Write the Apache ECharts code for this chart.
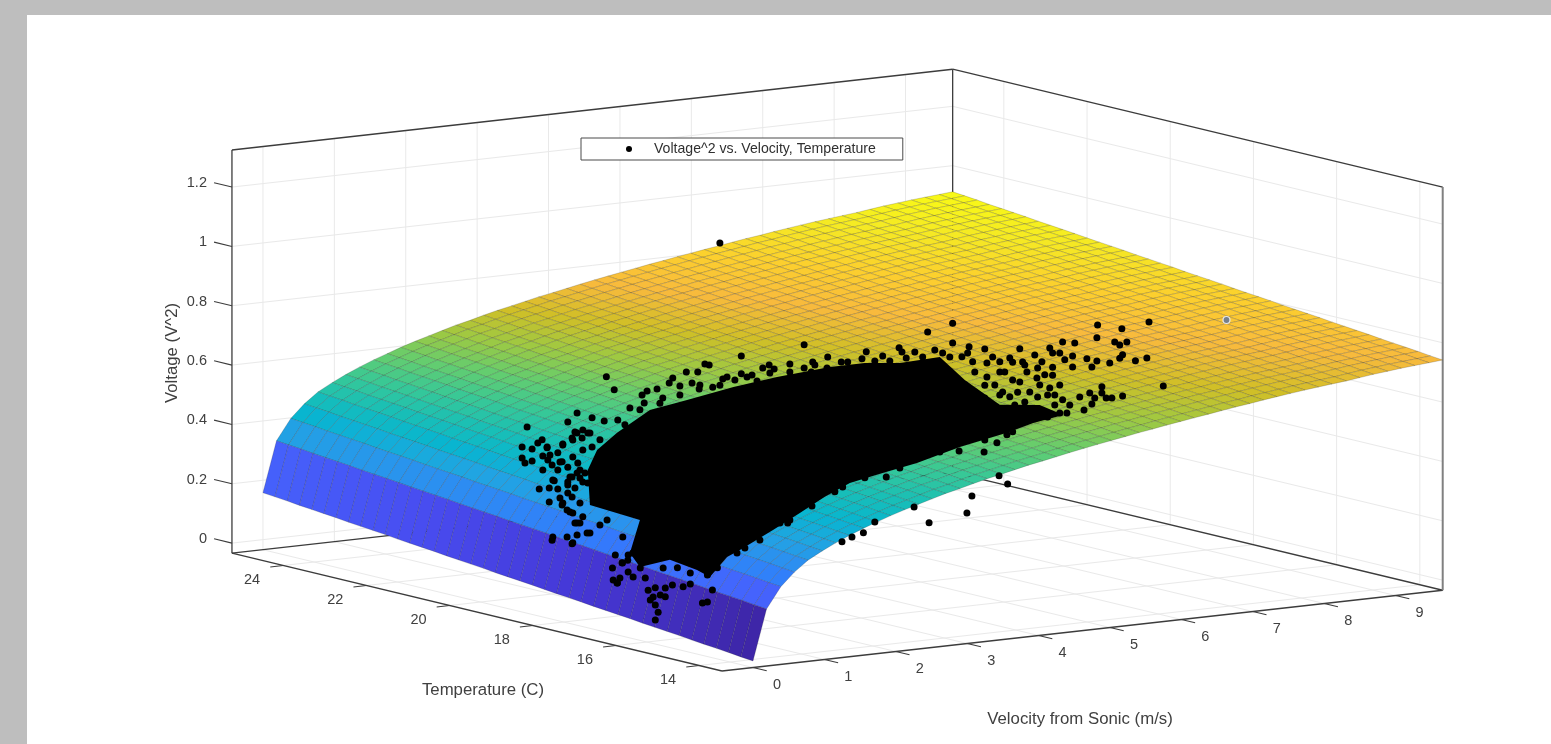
<!DOCTYPE html>
<html><head><meta charset="utf-8">
<style>html,body{margin:0;padding:0;background:#fff}#c{width:1551px;height:744px}</style>
<script src="https://cdn.jsdelivr.net/npm/echarts@6/dist/echarts.min.js"></script>
</head><body><div id="c"></div>
<script>
// Axis limits and tick labels
const velocityRange = [-0.434, 9.66];
const temperatureRange = [13.45, 25.23];
const voltageRange = [-0.034, 1.325];
const velocityTicks = [0,1,2,3,4,5,6,7,8,9];
const temperatureTicks = [14,16,18,20,22,24];
const voltageTicks = [0,0.2,0.4,0.6,0.8,1,1.2];

// Fitted surface: grid positions and voltage^2 (x1000)
const velocityGrid = [0,.19,.39,.58,.77,.97,1.16,1.35,1.55,1.74,1.93,2.13,2.32,2.51,2.70,2.90,3.09,3.28,3.48,3.67,3.86,4.06,4.25,4.44,4.64,4.83,5.02,5.22,5.41,5.60,5.80,5.99,6.18,6.38,6.57,6.76,6.96,7.15,7.34,7.53,7.73,7.92,8.11,8.31,8.50,8.69,8.89,9.08,9.27,9.47,9.66];
const temperatureGrid = [13.45,13.74,14.04,14.33,14.63,14.92,15.22,15.51,15.81,16.10,16.40,16.69,16.99,17.28,17.58,17.87,18.17,18.46,18.75,19.05,19.34,19.64,19.93,20.23,20.52,20.81,21.11,21.40,21.70,21.99,22.29,22.58,22.88,23.17,23.47,23.76,24.05,24.35,24.64,24.94,25.23];
const surfaceVoltage = [
[-12,158,228,272,307,333,355,375,394,410,426,441,454,467,480,491,503,514,524,534,544,553,562,571,580,588,596,604,612,619,627,634,641,648,655,662,668,675,681,687,693,698,703,708,714,720,725,730,734,738,742],
[-8,162,232,276,311,337,359,379,398,414,430,445,458,471,484,495,507,518,528,538,548,557,566,575,584,592,600,608,616,623,631,638,645,652,659,666,672,679,685,691,697,702,707,712,718,724,729,734,738,742,746],
[-3,167,237,281,316,342,364,384,403,419,435,450,463,476,489,500,512,523,533,543,553,562,571,580,589,597,605,613,621,628,636,643,650,657,664,671,677,684,690,696,702,707,712,717,723,729,734,739,743,747,751],
[1,171,241,285,320,346,368,388,407,423,439,454,467,480,493,504,516,527,537,547,557,566,575,584,593,601,609,617,625,632,640,647,654,661,668,675,681,688,694,700,706,711,716,721,727,733,738,743,747,751,755],
[5,175,245,289,324,350,372,392,411,427,443,458,471,484,497,508,520,531,541,551,561,570,579,588,597,605,613,621,629,636,644,651,658,665,672,679,685,692,698,704,710,715,720,725,731,737,742,747,751,755,759],
[9,179,249,293,328,354,376,396,415,431,447,462,475,488,501,512,524,535,545,555,565,574,583,592,601,609,617,625,633,640,648,655,662,669,676,683,689,696,702,708,714,719,724,729,735,741,746,751,755,759,763],
[14,184,254,298,333,359,381,401,420,436,452,467,480,493,506,517,529,540,550,560,570,579,588,597,606,614,622,630,638,645,653,660,667,674,681,688,694,701,707,713,719,724,729,734,740,746,751,756,760,764,768],
[18,188,258,302,337,363,385,405,424,440,456,471,484,497,510,521,533,544,554,564,574,583,592,601,610,618,626,634,642,649,657,664,671,678,685,692,698,705,711,717,723,728,733,738,744,750,755,760,764,768,772],
[22,192,262,306,341,367,389,409,428,444,460,475,488,501,514,525,537,548,558,568,578,587,596,605,614,622,630,638,646,653,661,668,675,682,689,696,702,709,715,721,727,732,737,742,748,754,759,764,768,772,776],
[26,196,266,310,345,371,393,413,432,448,464,479,492,505,518,529,541,552,562,572,582,591,600,609,618,626,634,642,650,657,665,672,679,686,693,700,706,713,719,725,731,736,741,746,752,758,763,768,772,776,780],
[31,201,271,315,350,376,398,418,437,453,469,484,497,510,523,534,546,557,567,577,587,596,605,614,623,631,639,647,655,662,670,677,684,691,698,705,711,718,724,730,736,741,746,751,757,763,768,773,777,781,785],
[35,205,275,319,354,380,402,422,441,457,473,488,501,514,527,538,550,561,571,581,591,600,609,618,627,635,643,651,659,666,674,681,688,695,702,709,715,722,728,734,740,745,750,755,761,767,772,777,781,785,789],
[39,209,279,323,358,384,406,426,445,461,477,492,505,518,531,542,554,565,575,585,595,604,613,622,631,639,647,655,663,670,678,685,692,699,706,713,719,726,732,738,744,749,754,759,765,771,776,781,785,789,793],
[43,213,283,327,362,388,410,430,449,465,481,496,509,522,535,546,558,569,579,589,599,608,617,626,635,643,651,659,667,674,682,689,696,703,710,717,723,730,736,742,748,753,758,763,769,775,780,785,789,793,797],
[48,218,288,332,367,393,415,435,454,470,486,501,514,527,540,551,563,574,584,594,604,613,622,631,640,648,656,664,672,679,687,694,701,708,715,722,728,735,741,747,753,758,763,768,774,780,785,790,794,798,802],
[52,222,292,336,371,397,419,439,458,474,490,505,518,531,544,555,567,578,588,598,608,617,626,635,644,652,660,668,676,683,691,698,705,712,719,726,732,739,745,751,757,762,767,772,778,784,789,794,798,802,806],
[56,226,296,340,375,401,423,443,462,478,494,509,522,535,548,559,571,582,592,602,612,621,630,639,648,656,664,672,680,687,695,702,709,716,723,730,736,743,749,755,761,766,771,776,782,788,793,798,802,806,810],
[60,230,300,344,379,405,427,447,466,482,498,513,526,539,552,563,575,586,596,606,616,625,634,643,652,660,668,676,684,691,699,706,713,720,727,734,740,747,753,759,765,770,775,780,786,792,797,802,806,810,814],
[65,235,305,349,384,410,432,452,471,487,503,518,531,544,557,568,580,591,601,611,621,630,639,648,657,665,673,681,689,696,704,711,718,725,732,739,745,752,758,764,770,775,780,785,791,797,802,807,811,815,819],
[69,239,309,353,388,414,436,456,475,491,507,522,535,548,561,572,584,595,605,615,625,634,643,652,661,669,677,685,693,700,708,715,722,729,736,743,749,756,762,768,774,779,784,789,795,801,806,811,815,819,823],
[73,243,313,357,392,418,440,460,479,495,511,526,539,552,565,576,588,599,609,619,629,638,647,656,665,673,681,689,697,704,712,719,726,733,740,747,753,760,766,772,778,783,788,793,799,805,810,815,819,823,827],
[77,247,317,361,396,422,444,464,483,499,515,530,543,556,569,580,592,603,613,623,633,642,651,660,669,677,685,693,701,708,716,723,730,737,744,751,757,764,770,776,782,787,792,797,803,809,814,819,823,827,831],
[82,252,322,366,401,427,449,469,488,504,520,535,548,561,574,585,597,608,618,628,638,647,656,665,674,682,690,698,706,713,721,728,735,742,749,756,762,769,775,781,787,792,797,802,808,814,819,824,828,832,836],
[86,256,326,370,405,431,453,473,492,508,524,539,552,565,578,589,601,612,622,632,642,651,660,669,678,686,694,702,710,717,725,732,739,746,753,760,766,773,779,785,791,796,801,806,812,818,823,828,832,836,840],
[90,260,330,374,409,435,457,477,496,512,528,543,556,569,582,593,605,616,626,636,646,655,664,673,682,690,698,706,714,721,729,736,743,750,757,764,770,777,783,789,795,800,805,810,816,822,827,832,836,840,844],
[94,264,334,378,413,439,461,481,500,516,532,547,560,573,586,597,609,620,630,640,650,659,668,677,686,694,702,710,718,725,733,740,747,754,761,768,774,781,787,793,799,804,809,814,820,826,831,836,840,844,848],
[99,269,339,383,418,444,466,486,505,521,537,552,565,578,591,602,614,625,635,645,655,664,673,682,691,699,707,715,723,730,738,745,752,759,766,773,779,786,792,798,804,809,814,819,825,831,836,841,845,849,853],
[103,273,343,387,422,448,470,490,509,525,541,556,569,582,595,606,618,629,639,649,659,668,677,686,695,703,711,719,727,734,742,749,756,763,770,777,783,790,796,802,808,813,818,823,829,835,840,845,849,853,857],
[107,277,347,391,426,452,474,494,513,529,545,560,573,586,599,610,622,633,643,653,663,672,681,690,699,707,715,723,731,738,746,753,760,767,774,781,787,794,800,806,812,817,822,827,833,839,844,849,853,857,861],
[111,281,351,395,430,456,478,498,517,533,549,564,577,590,603,614,626,637,647,657,667,676,685,694,703,711,719,727,735,742,750,757,764,771,778,785,791,798,804,810,816,821,826,831,837,843,848,853,857,861,865],
[116,286,356,400,435,461,483,503,522,538,554,569,582,595,608,619,631,642,652,662,672,681,690,699,708,716,724,732,740,747,755,762,769,776,783,790,796,803,809,815,821,826,831,836,842,848,853,858,862,866,870],
[120,290,360,404,439,465,487,507,526,542,558,573,586,599,612,623,635,646,656,666,676,685,694,703,712,720,728,736,744,751,759,766,773,780,787,794,800,807,813,819,825,830,835,840,846,852,857,862,866,870,874],
[124,294,364,408,443,469,491,511,530,546,562,577,590,603,616,627,639,650,660,670,680,689,698,707,716,724,732,740,748,755,763,770,777,784,791,798,804,811,817,823,829,834,839,844,850,856,861,866,870,874,878],
[128,298,368,412,447,473,495,515,534,550,566,581,594,607,620,631,643,654,664,674,684,693,702,711,720,728,736,744,752,759,767,774,781,788,795,802,808,815,821,827,833,838,843,848,854,860,865,870,874,878,882],
[133,303,373,417,452,478,500,520,539,555,571,586,599,612,625,636,648,659,669,679,689,698,707,716,725,733,741,749,757,764,772,779,786,793,800,807,813,820,826,832,838,843,848,853,859,865,870,875,879,883,887],
[137,307,377,421,456,482,504,524,543,559,575,590,603,616,629,640,652,663,673,683,693,702,711,720,729,737,745,753,761,768,776,783,790,797,804,811,817,824,830,836,842,847,852,857,863,869,874,879,883,887,891],
[141,311,381,425,460,486,508,528,547,563,579,594,607,620,633,644,656,667,677,687,697,706,715,724,733,741,749,757,765,772,780,787,794,801,808,815,821,828,834,840,846,851,856,861,867,873,878,883,887,891,895],
[145,315,385,429,464,490,512,532,551,567,583,598,611,624,637,648,660,671,681,691,701,710,719,728,737,745,753,761,769,776,784,791,798,805,812,819,825,832,838,844,850,855,860,865,871,877,882,887,891,895,899],
[150,320,390,434,469,495,517,537,556,572,588,603,616,629,642,653,665,676,686,696,706,715,724,733,742,750,758,766,774,781,789,796,803,810,817,824,830,837,843,849,855,860,865,870,876,882,887,892,896,900,904],
[154,324,394,438,473,499,521,541,560,576,592,607,620,633,646,657,669,680,690,700,710,719,728,737,746,754,762,770,778,785,793,800,807,814,821,828,834,841,847,853,859,864,869,874,880,886,891,896,900,904,908],
[158,328,398,442,477,503,525,545,564,580,596,611,624,637,650,661,673,684,694,704,714,723,732,741,750,758,766,774,782,789,797,804,811,818,825,832,838,845,851,857,863,868,873,878,884,890,895,900,904,908,912]
];

// Measured samples: [velocity, voltage^2]. Depth cannot be read, so each group carries one temperature.
const sampleTemperatureA = 19;
const samplesA = [[.07,.588],[1.18,.727],[1.29,.680],[0,.522],[.14,.512],[0,.485],[.14,.471],[.04,.467],[.28,.539],[.22,.530],[.35,.513],[.39,.485],[.29,.484],[.50,.489],[.56,.457],[.42,.450],[.29,.437],[.50,.431],[.57,.517],[.64,.589],[.77,.616],[.98,.594],[.74,.553],[.84,.530],[.70,.534],[.92,.545],[1.15,.579],[1.34,.577],[1.51,.613],[1.71,.624],[1.68,.652],[1.75,.664],[1.89,.667],[1.97,.634],[2.06,.682],[2.11,.698],[2.30,.713],[2.21,.668],[2.46,.709],[2.56,.733],[2.62,.728],[2.38,.674],[2.48,.651],[2.67,.652],[2.81,.676],[2.87,.681],[3.07,.746],[3.07,.686],[3.15,.673],[3.37,.698],[3.29,.656],[3.46,.705],[3.53,.690],[3.75,.701],[3.95,.760],[4.07,.699],[3.95,.682],[4.05,.666],[4.28,.710],[4.27,.673],[.24,.374],[.38,.374],[.50,.367],[.45,.396],[.38,.327],[.53,.336],[.64,.377],[.70,.402],[.81,.423],[.64,.350],[.56,.312],[.67,.285],[.77,.414],[.85,.381],[.74,.246],[4.47,.688],[4.82,.713],[4.76,.691],[5.05,.693],[4.94,.679],[5.28,.714],[5.32,.699],[5.68,.757],[6.03,.777],[6.03,.710],[5.78,.693],[5.38,.677],[5.61,.674],[5.89,.680],[6.26,.691],[6.24,.671],[6.48,.678],[6.16,.660],[6.59,.648],[6.83,.638],[6.97,.665],[7.18,.639],[7.01,.620],[7.39,.657],[7.57,.672],[7.74,.664],[7.53,.636],[7.71,.621],[7.43,.639],[7.60,.611],[7.71,.584],[7.28,.613],[7.22,.594],[7.43,.591],[7.43,.564],[7.21,.560],[7.07,.584],[6.87,.623],[6.69,.629],[6.51,.630],[6.31,.639],[6.69,.595],[6.51,.583],[6.87,.563],[6.94,.520],[6.73,.526],[6.83,.507],[6.48,.556],[7.39,.522],[7.36,.499],[7.46,.496],[7.22,.496],[7.04,.484],[7.46,.463],[7.53,.434],[7.63,.431],[7.36,.425],[7.81,.480],[7.87,.435],[7.95,.490],[8.02,.471],[8.12,.506],[8.12,.485],[7.98,.452],[8.18,.467],[8.26,.465],[8.41,.467],[7.91,.606],[8.05,.595],[7.98,.577],[8.23,.583],[8.06,.716],[8.05,.673],[8.40,.694],[8.30,.652],[8.37,.640],[8.47,.648],[8.41,.606],[8.37,.596],[8.78,.707],[8.98,.486],[8.59,.581],[8.75,.586],[6.12,.344],[6.47,.331],[6.65,.357],[6.79,.380],[6.87,.388],[6.68,.245],[6.80,.214],[6.30,.187],[6.23,.132],[5.70,.113],[5.49,.172],[4.94,.136],[4.78,.104],[4.62,.094],[4.48,.082],[5.10,.284],[4.49,.266],[3.72,.166],[3.58,.170],[2.77,1.135],[.42,.197],[.43,.207],[.63,.202],[.70,.177],[.77,.205],[.95,.207],[.81,.244],[.63,.293],
[.77,.549],[.85,.557],[.95,.544],[.71,.527],[.57,.514],[.35,.510],[.36,.469],[.53,.457],[.71,.469],[.85,.489],[.98,.496],[.64,.437],[.78,.447],[.88,.411],[.67,.403],[.43,.399],[.64,.387],[.81,.396],[.74,.364],[.92,.376],[.57,.318],[.70,.335],[.81,.312],[.71,.281],[.85,.264],[.77,.245],[.91,.208],[1.09,.230],[1.19,.244],[1.41,.181],[1.40,.094],[1.48,.101],[1.55,.123],[.71,.180],[1.33,.028],[1.37,.044],[3.01,.084],[3.61,.169],
[1.09,.517],[1.44,.558],[1.65,.603],[1.93,.618],[2.21,.638],[2.49,.664],[2.77,.656],[2.98,.668],[3.22,.678],[3.47,.678],[3.75,.674],[4.10,.688],[4.56,.686],[5.15,.673],[5.50,.694],[5.99,.664],
[6.34,.604],[6.20,.564],[6.34,.537],[6.62,.553],[6.76,.593],[6.97,.553],[7.11,.516],[7.25,.536],[7.04,.609],[7.32,.568],[7.53,.528],[7.57,.477],[7.67,.457],[6.69,.517],[6.48,.513],[6.90,.478],
[6.48,.371],[5.85,.348],[5.29,.309],[4.80,.289],[4.38,.253],[4.06,.214],[3.75,.175],[3.33,.119],[3.12,.098]];
const sampleTemperatureB = 17;
const samplesB = [[.17,.127],[.11,.138],[.24,.192],[.39,.141],[.49,.169],[.60,.091],[.70,.096],[.67,.066],[.84,.092],[.84,.062],[.70,.038],[.74,.013],[.70,-.012],[1.09,.089],[1.19,.096],[1.36,.027],[1.43,.029],[1.50,.067],[.81,.160],[1.01,.155],[1.19,.133],[1.57,.140],[1.43,.120],[.32,.217],[.63,.057],[.77,.070],[.94,.099],[.56,.133],[.32,.160],[.10,.179],[.14,.222]];
// Outline of the part of the cloud too dense to separate into points, at sampleTemperatureA
const denseCloudOutline = [[.95,.301],[.92,.420],[1.05,.484],[1.33,.534],[1.79,.599],[2.31,.618],[2.96,.645],[3.57,.662],[4.31,.676],[4.80,.676],[5.29,.663],[5.85,.668],[6.2,.581],[6.69,.484],[7.25,.468],[7.58,.426],[7.16,.410],[6.79,.387],[6.13,.357],[5.53,.319],[5.06,.299],[4.59,.277],[4.24,.240],[3.89,.195],[3.52,.148],[3.05,.093],[2.87,.074],[2.63,.013],[2.45,.042],[2.07,.086],[1.65,.073],[1.51,.124],[1.65,.232]];
const selectedPoint = [[8.70,.783]];

const parula = [[62,38,168],[69,55,213],[72,77,240],[69,99,253],[50,124,252],[43,145,239],[32,165,226],[8,181,208],[25,191,182],[55,200,151],[100,205,111],[157,201,67],[209,191,39],[248,186,61],[252,207,46],[245,233,36],[249,251,21]];
const FONT = '"Liberation Sans", Arial, sans-serif';

// View of the 3-D box: maps data space onto the flat (hidden) cartesian plane
function project(v, T, z) {
  const dv = v - velocityRange[0], dT = T - temperatureRange[0], dz = z - voltageRange[0];
  return [722 + dv * 71.4 - dT * 41.6, 671 - dv * 8 - dT * 10 - dz * 296.7];
}
function colorOf(milli) {
  const t = Math.max(0, Math.min(1, (milli + 12) / 924)) * (parula.length - 1);
  const a = Math.min(Math.floor(t), parula.length - 2), f = t - a;
  const c = parula[a].map((x, k) => Math.round(x + (parula[a + 1][k] - x) * f));
  return 'rgb(' + c.join(',') + ')';
}

const [vA, vB] = velocityRange, [tA, tB] = temperatureRange, [zA, zB] = voltageRange;
const gridLines = [], boxLines = [], tickLines = [], tickTexts = [];
velocityTicks.forEach(v => {
  gridLines.push([project(v, tB, zA), project(v, tB, zB)], [project(v, tA, zA), project(v, tB, zA)]);
  const p = project(v, tA, zA);
  tickLines.push([p, project(v, tA - 0.33, zA)]);
  tickTexts.push({ p, dx: 24, dy: 17, text: String(v), align: 'center' });
});
temperatureTicks.forEach(T => {
  gridLines.push([project(vB, T, zA), project(vB, T, zB)], [project(vA, T, zA), project(vB, T, zA)]);
  const p = project(vA, T, zA);
  tickLines.push([p, project(vA - 0.18, T, zA)]);
  tickTexts.push({ p, dx: -31, dy: 14, text: String(T), align: 'center' });
});
voltageTicks.forEach(z => {
  gridLines.push([project(vA, tB, z), project(vB, tB, z)], [project(vB, tA, z), project(vB, tB, z)]);
  const p = project(vA, tB, z);
  tickLines.push([p, project(vA, tB + 0.43, z)]);
  tickTexts.push({ p, dx: -25, dy: -4, text: String(z), align: 'right' });
});
const corner = (a, b, c) => project(a ? vB : vA, b ? tB : tA, c ? zB : zA);
[[[0,1,0],[0,1,1]],[[0,1,1],[1,1,1]],[[1,1,1],[1,0,1]],[[1,1,0],[1,1,1]],[[0,1,0],[0,0,0]],[[0,0,0],[1,0,0]],[[0,1,0],[1,1,0]],[[1,1,0],[1,0,0]]]
  .forEach(([a, b]) => boxLines.push([corner(...a), corner(...b)]));
const rightEdge = [corner(1,0,0), corner(1,0,1)];

const cells = [];
for (let i = velocityGrid.length - 2; i >= 0; i--)
  for (let j = temperatureGrid.length - 2; j >= 0; j--) cells.push([i, j]);

function lineSeries(list, stroke, width, z) {
  return { type: 'custom', coordinateSystem: 'cartesian2d', silent: true, animation: false, clip: false, z, progressive: 0,
    data: list.map(l => l[0]),
    renderItem(params, api) {
      const l = list[params.dataIndex], a = api.coord(l[0]), b = api.coord(l[1]);
      return { type: 'line', shape: { x1: a[0], y1: a[1], x2: b[0], y2: b[1] }, style: { stroke, lineWidth: width } };
    } };
}
const series = [
  lineSeries(gridLines, '#e9e9e9', 1, 1),
  lineSeries(boxLines, '#3c3c3c', 1.3, 2),
  lineSeries([rightEdge], '#808080', 2, 2),
  lineSeries(tickLines, '#3c3c3c', 1.1, 2),
  { type: 'custom', coordinateSystem: 'cartesian2d', silent: true, animation: false, clip: false, z: 3, progressive: 0,
    data: tickTexts.map(t => t.p),
    renderItem(params, api) {
      const t = tickTexts[params.dataIndex], a = api.coord(t.p);
      return { type: 'text', x: a[0] + t.dx, y: a[1] + t.dy, style: { text: t.text, fill: '#404040', font: '14.5px ' + FONT, align: t.align, verticalAlign: 'middle' } };
    } },
  { type: 'custom', name: 'surface', coordinateSystem: 'cartesian2d', silent: true, animation: false, clip: false, z: 4, progressive: 0,
    data: cells,
    renderItem(params, api) {
      const [i, j] = cells[params.dataIndex];
      const pt = (a, b) => api.coord(project(velocityGrid[a], temperatureGrid[b], surfaceVoltage[b][a] / 1000));
      return { type: 'polygon', shape: { points: [pt(i, j), pt(i + 1, j), pt(i + 1, j + 1), pt(i, j + 1)] },
        style: { fill: colorOf(surfaceVoltage[j][i]), stroke: 'rgba(30,30,30,0.32)', lineWidth: 0.6 } };
    } },
  { type: 'custom', coordinateSystem: 'cartesian2d', silent: true, animation: false, clip: false, z: 5,
    data: [denseCloudOutline[0]],
    renderItem(params, api) {
      return { type: 'polygon', shape: { points: denseCloudOutline.map(p => api.coord(project(p[0], sampleTemperatureA, p[1]))) }, style: { fill: '#000' } };
    } },
  { type: 'scatter', name: 'Voltage^2 vs. Velocity, Temperature', symbol: 'circle', symbolSize: 7, animation: false, silent: true, z: 6, large: false,
    itemStyle: { color: '#000', opacity: 1 },
    data: samplesA.map(p => project(p[0], sampleTemperatureA, p[1])).concat(samplesB.map(p => project(p[0], sampleTemperatureB, p[1]))) },
  { type: 'scatter', symbol: 'circle', symbolSize: 7, animation: false, silent: true, z: 6,
    itemStyle: { color: '#76808c', borderColor: '#e8e8e8', borderWidth: 1.2, opacity: 1 },
    data: selectedPoint.map(p => project(p[0], sampleTemperatureB, p[1])) }
];

const chart = echarts.init(document.getElementById('c'), null, { renderer: 'canvas' });
chart.setOption({
  animation: false, backgroundColor: '#fff',
  grid: { left: 0, right: 0, top: 0, bottom: 0 },
  xAxis: { type: 'value', min: 0, max: 1551, show: false },
  yAxis: { type: 'value', min: 0, max: 744, inverse: true, show: false },
  legend: { data: ['Voltage^2 vs. Velocity, Temperature'], left: 581, top: 138, selectedMode: false, icon: 'circle',
    itemWidth: 40, itemHeight: 6, padding: [4, 27, 4, 45], borderColor: '#4a4a4a', borderWidth: 1, backgroundColor: '#fff',
    textStyle: { fontFamily: FONT, fontSize: 14.1, color: '#303030', lineHeight: 14 } },
  graphic: [
    { type: 'rect', silent: true, shape: { x: 0, y: 0, width: 1551, height: 15 }, style: { fill: '#bebebe' } },
    { type: 'rect', silent: true, shape: { x: 0, y: 0, width: 27, height: 744 }, style: { fill: '#bebebe' } },
    { type: 'text', silent: true, x: 483, y: 690, style: { text: 'Temperature (C)', font: '16.8px ' + FONT, fill: '#404040', align: 'center', verticalAlign: 'middle' } },
    { type: 'text', silent: true, x: 1080, y: 719, style: { text: 'Velocity from Sonic (m/s)', font: '16.8px ' + FONT, fill: '#404040', align: 'center', verticalAlign: 'middle' } },
    { type: 'text', silent: true, x: 172, y: 353, rotation: Math.PI / 2, style: { text: 'Voltage (V^2)', font: '16.8px ' + FONT, fill: '#404040', align: 'center', verticalAlign: 'middle' } }
  ],
  series
});
</script></body></html>
